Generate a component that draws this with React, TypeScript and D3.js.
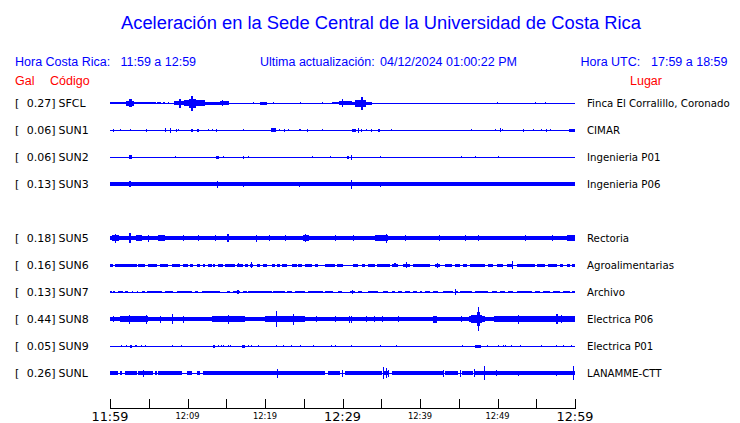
import React from "react";
import * as d3 from "d3";

// ---------- DATA ----------
const titleText = "Aceleración en la Sede Central de la Universidad de Costa Rica";
const localLabel = "Hora Costa Rica:";
const localRange = "11:59 a 12:59";
const updateLabel = "Ultima actualización:";
const updateValue = "04/12/2024 01:00:22 PM";
const utcLabel = "Hora UTC:";
const utcRange = "17:59 a 18:59";

// slots (SUN4 has no data, leaving a gap)
const slotCodes = ["SFCL", "SUN1", "SUN2", "SUN3", "SUN4", "SUN5", "SUN6", "SUN7", "SUN8", "SUN9", "SUNL"];
const stationCodes = ["SFCL", "SUN1", "SUN2", "SUN3", "SUN5", "SUN6", "SUN7", "SUN8", "SUN9", "SUNL"];
const stationGal = [0.27, 0.06, 0.06, 0.13, 0.18, 0.16, 0.13, 0.44, 0.05, 0.26];
const stationPlaces = [
  "Finca El Corralillo, Coronado",
  "CIMAR",
  "Ingenieria P01",
  "Ingenieria P06",
  "Rectoria",
  "Agroalimentarias",
  "Archivo",
  "Electrica P06",
  "Electrica P01",
  "LANAMME-CTT",
];

// time axis (minutes after 11:59)
const tickMinutes = [0, 5, 10, 15, 20, 25, 30, 35, 40, 45, 50, 55, 60];
const majorLabelMinutes = [0, 30, 60];
const minorLabelMinutes = [10, 20, 40, 50];

// envelope segments per trace: [start minute, end minute, half amplitude]
const sfcl = [
  [0, 2.1, 1.3], [2.1, 3.1, 2.5], [2.4, 2.8, 3.8], [3.1, 5.9, 1.2], [6.0, 6.6, 1.2], [6.9, 7.05, 1], [7.5, 7.6, 1],
  [8.2, 9.5, 2.2], [8.9, 9.1, 4.5], [9.5, 10.2, 2.8], [10.2, 11.1, 4.5], [10.5, 10.75, 7.5], [11.1, 12.3, 3],
  [12.3, 14.2, 1.5], [14.2, 15.3, 2.2], [14.4, 14.6, 3.3],
  [18.4, 18.5, 1], [19.4, 20.2, 1.5], [21.0, 21.1, 1], [24.5, 24.6, 0.8], [27.3, 27.4, 1],
  [28.6, 29.5, 1.3], [29.5, 31.2, 2.4], [29.9, 30.1, 4.3], [31.2, 31.6, 1.5], [31.6, 33.0, 3.5], [32.4, 32.7, 6.5],
  [33.0, 33.8, 1.5], [49.9, 50.0, 0.8], [54.8, 54.9, 0.8], [56.1, 56.2, 0.8],
];
const sun1 = [
  [0.4, 0.55, 1.5], [1.25, 1.4, 1.3], [2.55, 2.65, 0.8], [4.6, 4.75, 1.5], [7.05, 7.2, 2], [7.8, 7.9, 2.5],
  [8.55, 8.7, 1.5], [8.8, 8.9, 1.3], [10.45, 10.75, 1.5], [11.18, 11.48, 1.5], [12.65, 12.8, 1.3], [13.1, 13.2, 1.3],
  [13.72, 13.85, 1.5], [17.15, 17.25, 1], [20.73, 21.38, 1.7], [21.8, 21.9, 1.3], [22.4, 22.55, 1.5],
  [22.95, 23.05, 1.3], [24.45, 24.6, 1.2], [25.4, 25.55, 1.5], [27.35, 27.45, 1.3], [31.18, 31.7, 1.5],
  [32.0, 32.1, 2.5], [32.45, 32.55, 1.5], [33.05, 33.15, 1.3], [33.7, 33.8, 1.5], [34.54, 34.88, 1.5],
  [36.2, 36.3, 1.3], [46.55, 46.65, 0.8], [49.7, 49.8, 1], [50.35, 50.45, 2], [50.6, 50.7, 1.3], [53.3, 53.4, 1.5],
  [54.6, 54.7, 1.3], [55.65, 55.75, 1.3], [56.3, 56.4, 1.5], [56.8, 56.9, 1.3], [59.2, 60, 1.5],
];
const sun2 = [
  [2.5, 2.8, 1.7], [8.4, 8.5, 0.8], [13.7, 14.0, 1.5], [14.6, 14.7, 0.8], [17.15, 17.3, 1.5], [17.8, 17.9, 0.8],
  [26.05, 26.15, 1], [28.35, 28.45, 0.6], [30.6, 30.8, 1.5], [31.15, 31.25, 2.5], [34.85, 34.95, 1],
  [45.35, 45.45, 1.2], [47.05, 47.15, 1.2], [50.05, 50.15, 1.2],
];
const sun3 = [
  [0, 60, 2], [2.5, 2.7, 3], [13.8, 13.9, 3.5], [17.15, 17.3, 2.5], [24.45, 24.55, 2.5], [31.1, 31.25, 4.5],
  [34.85, 34.95, 2.5],
];
const sun5 = [
  [0, 60, 2.2], [0.2, 1.1, 3], [0.6, 0.75, 4.5], [2.5, 2.65, 5], [3.4, 4.1, 3], [4.9, 5.0, 3.5], [6.2, 7.1, 3],
  [9.4, 9.5, 3.3], [11.4, 11.5, 3.3], [13.5, 13.6, 3.3], [15.15, 15.3, 4.2], [18.85, 19.0, 3.5], [20.5, 20.7, 2.8],
  [22.6, 22.7, 3.2], [24.9, 25.7, 3], [25.2, 25.35, 4.2], [29.0, 29.1, 3.2], [31.4, 31.5, 3.2], [34.2, 35.9, 3],
  [35.6, 35.8, 4.5], [38.0, 38.1, 3.2], [42.4, 42.5, 3.2], [45.8, 45.9, 3.2], [47.5, 47.6, 3.2], [53.5, 53.6, 3.2],
  [57.0, 57.1, 3.2], [59.0, 60, 3],
];
const sun6 = [
  [0, 0.43, 1.5], [0.65, 3.44, 1.5], [3.66, 4.52, 1.5], [4.95, 6.02, 1.5], [6.45, 7.53, 1.5], [7.96, 9.03, 1.5],
  [9.46, 10.11, 1.5], [10.32, 10.75, 1.5], [11.18, 11.61, 1.5], [12.04, 12.26, 1.5], [12.69, 13.12, 1.5],
  [13.33, 13.55, 1.5], [13.98, 14.62, 1.5], [14.84, 16.13, 1.5], [16.34, 17.2, 1.5], [17.42, 17.85, 1.5],
  [18.06, 18.49, 1.5], [18.92, 19.35, 1.5], [19.78, 20.22, 1.5], [20.86, 21.29, 1.5], [21.51, 21.94, 1.5],
  [22.15, 22.8, 1.5], [23.44, 24.09, 1.5], [24.3, 24.73, 1.5], [25.16, 26.02, 1.5], [26.45, 26.88, 1.5],
  [27.74, 29.03, 1.5], [29.25, 30.11, 1.5], [31.4, 32.04, 1.5], [32.47, 32.9, 1.5], [33.33, 34.19, 1.5],
  [34.41, 36.13, 1.5], [36.34, 37.2, 1.5], [37.85, 38.71, 1.5], [39.14, 41.29, 1.5], [41.94, 42.58, 1.5],
  [43.23, 44.09, 1.5], [44.52, 45.16, 1.5], [45.59, 46.02, 1.5], [46.45, 48.39, 1.5], [48.82, 49.46, 1.5],
  [49.89, 50.75, 1.5], [51.18, 52.04, 1.5], [52.47, 54.84, 1.5], [55.05, 56.13, 1.5], [56.56, 57.63, 1.5],
  [58.06, 58.49, 1.5], [58.92, 59.35, 1.5], [59.57, 60, 1.5],
  [16.5, 16.65, 2.3], [18.15, 18.3, 3.3], [36.7, 36.85, 2.3], [38.2, 38.35, 3], [42.2, 42.3, 2.5], [51.85, 52.0, 4],
];
const sun7 = [
  [0, 0.2, 1.4], [0.43, 0.65, 1.4], [1.08, 1.72, 1.4], [1.94, 2.37, 1.4], [2.8, 3.0, 1.4], [3.44, 3.66, 1.4],
  [4.09, 4.52, 1.4], [4.73, 6.67, 1.4], [7.1, 8.17, 1.4], [8.6, 10.54, 1.4], [10.97, 11.4, 1.4], [11.83, 14.19, 1.4],
  [15.05, 15.48, 1.4], [15.91, 16.77, 1.4], [17.2, 17.63, 1.4], [17.85, 20.86, 1.4], [21.08, 22.58, 1.4],
  [22.8, 23.44, 1.4], [23.87, 25.16, 1.4], [25.59, 27.53, 1.4], [27.74, 28.82, 1.4], [29.46, 29.89, 1.4],
  [30.97, 31.61, 1.4], [32.04, 32.47, 1.4], [33.33, 34.62, 1.4], [35.27, 35.91, 1.4], [36.34, 36.77, 1.4],
  [37.2, 37.63, 1.4], [38.06, 38.71, 1.4], [39.14, 39.57, 1.4], [40.0, 40.22, 1.4], [40.65, 41.29, 1.4],
  [41.72, 42.37, 1.4], [43.01, 44.3, 1.4], [44.52, 44.95, 1.4], [45.16, 46.67, 1.4], [47.1, 48.82, 1.4],
  [49.25, 49.89, 1.4], [50.32, 50.97, 1.4], [51.4, 52.04, 1.4], [52.47, 54.41, 1.4], [54.84, 55.48, 1.4],
  [55.91, 56.77, 1.4], [57.2, 58.06, 1.4], [58.49, 59.35, 1.4], [59.57, 60, 1.4],
  [16.45, 16.6, 2.3], [31.2, 31.35, 2.3], [44.55, 44.7, 3.3],
];
const sun8 = [
  [0, 60, 1.7], [0, 1.3, 2], [0.4, 0.5, 3], [1.3, 4.9, 2.8], [2.5, 2.6, 4.5], [4.6, 4.7, 4.5], [4.9, 6.3, 2],
  [6.4, 6.6, 3.5], [8.0, 8.15, 5], [8.4, 10.3, 2.3], [9.4, 9.5, 3.5], [10.3, 13.1, 2], [13.1, 17.4, 2.6],
  [15.2, 15.3, 4.5], [17.4, 20.0, 2.1], [20.0, 25.2, 2.7], [21.45, 21.6, 8], [22.6, 23.9, 3.4], [23.65, 23.8, 5.5],
  [26.6, 26.7, 3], [29.0, 29.1, 3], [30.8, 30.9, 3.5], [31.1, 31.2, 3.5], [33.05, 33.15, 3], [34.1, 34.2, 3],
  [35.05, 35.15, 3], [37.2, 37.3, 3], [41.7, 42.2, 3.5], [45.3, 45.4, 3], [46.3, 48.4, 2.6], [46.6, 48.0, 4],
  [47.3, 47.7, 7], [47.45, 47.6, 12], [48.4, 49.6, 2], [49.6, 60, 2.6], [52.6, 52.75, 4.5], [57.6, 57.75, 5],
  [58.2, 58.3, 4],
];
const sun9 = [
  [1.45, 1.55, 1], [2.1, 2.2, 1.3], [2.58, 2.8, 1.5], [3.23, 3.44, 1.3], [4.05, 4.15, 1.3], [4.55, 4.65, 1],
  [8.0, 8.1, 1.2], [9.2, 9.3, 0.8], [13.33, 13.55, 1.5], [13.95, 14.05, 1.2], [14.37, 14.47, 1.2], [14.6, 14.7, 1],
  [15.23, 15.33, 1.3], [15.45, 15.55, 1], [16.99, 17.42, 1.5], [17.8, 17.9, 1.2], [18.25, 18.35, 1.3],
  [19.1, 19.2, 1.2], [21.45, 21.55, 1.3], [22.32, 22.42, 1.2], [23.4, 23.5, 1.3], [24.47, 24.57, 1],
  [26.2, 26.3, 1.3], [28.55, 28.65, 1], [29.0, 29.1, 1], [31.13, 31.23, 1.3], [34.8, 34.9, 1.2], [36.95, 37.05, 1.2],
  [45.42, 45.52, 1], [47.1, 47.87, 1.5], [48.65, 48.75, 1], [50.07, 50.17, 1.2], [50.7, 50.8, 1], [50.93, 51.03, 1.2],
  [51.8, 51.9, 1], [52.85, 52.95, 1], [55.65, 55.75, 1], [57.58, 57.68, 1], [58.45, 58.55, 1], [59.52, 59.62, 1],
];
const sunl = [
  [0, 1.08, 1.6], [1.29, 1.5, 1.6], [1.94, 3.44, 1.6], [3.66, 5.59, 1.6], [5.81, 6.02, 1.6], [6.24, 9.25, 1.6],
  [9.89, 10.54, 1.6], [11.18, 11.61, 1.6], [12.04, 20.43, 1.6], [20.43, 21.72, 1.8], [21.72, 27.74, 1.6],
  [28.17, 29.68, 1.6], [30.32, 35.05, 1.6], [35.27, 35.91, 2.2], [36.34, 43.01, 1.6], [43.23, 44.95, 1.6],
  [45.38, 46.88, 1.6], [47.1, 60, 1.7],
  [4.25, 4.4, 3.5], [21.55, 21.7, 4.5], [29.95, 30.1, 3.5], [35.25, 35.4, 6], [35.65, 35.8, 5], [35.9, 36.0, 3.5],
  [43.0, 43.1, 3.5], [45.1, 45.25, 3.5], [47.0, 47.1, 4], [48.25, 48.4, 7], [49.85, 49.95, 3], [52.6, 52.7, 2.5],
  [57.6, 57.7, 2.5], [59.75, 59.9, 7],
];
const traceSegments = [sfcl, sun1, sun2, sun3, sun5, sun6, sun7, sun8, sun9, sunl];

// ---------- CHART ----------
const W = 740;
const H = 423;
const BLUE = "#0000ff";
const RED = "#ff0000";
const SANS = "'Liberation Sans', Arial, sans-serif";
const DEJAVU = "'DejaVu Sans', sans-serif";

const startTime = new Date(2024, 3, 12, 11, 59);
const fmt = d3.timeFormat("%H:%M");
const label = (m: number) => fmt(d3.timeMinute.offset(startTime, m));

export default function App() {
  const x = d3.scaleLinear().domain([0, 60]).range([110, 575]);
  const y = d3.scalePoint<string>().domain(slotCodes).range([103, 373]);
  const amp = d3.scaleLinear().domain([0, 1]).range([0, 1]);
  const axisY = 408.5;

  return (
    <svg
      width={W}
      height={H}
      viewBox={`0 0 ${W} ${H}`}
      style={{ position: "absolute", left: 0, top: 0, background: "#fff" }}
    >
      <rect x={0} y={0} width={W} height={H} fill="#fff" />
      <text x={381} y={28.5} textAnchor="middle" fontSize={18} fontFamily={SANS} fill={BLUE}
        textLength={520} lengthAdjust="spacingAndGlyphs">
        {titleText}
      </text>
      <g fontFamily={SANS} fontSize={12.5} fill={BLUE}>
        <text x={15} y={66}>{localLabel}</text>
        <text x={120.5} y={66}>{localRange}</text>
        <text x={260} y={66}>{updateLabel}</text>
        <text x={380} y={66}>{updateValue}</text>
        <text x={580.5} y={66}>{utcLabel}</text>
        <text x={651} y={66}>{utcRange}</text>
      </g>
      <g fontFamily={SANS} fontSize={12.5} fill={RED}>
        <text x={15} y={85}>Gal</text>
        <text x={50} y={85}>Código</text>
        <text x={630} y={85}>Lugar</text>
      </g>

      {stationCodes.map((code, i) => {
        const cy = y(code) as number;
        return (
          <g key={code}>
            <g fontFamily={DEJAVU} fontSize={11} fill="#000">
              <text x={15} y={cy + 4}>[</text>
              <text x={55.5} y={cy + 4} textAnchor="end">{stationGal[i].toFixed(2) + "]"}</text>
              <text x={58.5} y={cy + 4}>{code}</text>
            </g>
            <text x={587} y={cy + 4} fontFamily={DEJAVU} fontSize={10.2} fill="#000">{stationPlaces[i]}</text>
            <g fill={BLUE} shapeRendering="crispEdges">
              <line x1={x(0)} x2={x(60)} y1={cy} y2={cy} stroke={BLUE} strokeWidth={1} />
              {traceSegments[i].map((s, j) => {
                const x0 = x(s[0]);
                const w = Math.max(1, x(s[1]) - x0);
                const a = amp(s[2]);
                return <rect key={j} x={x0} width={w} y={cy - a} height={2 * a} />;
              })}
            </g>
          </g>
        );
      })}

      <g shapeRendering="crispEdges" stroke="#000">
        <line x1={x(0)} x2={x(60)} y1={axisY} y2={axisY} strokeWidth={1} />
        {tickMinutes.map((m) => (
          <line key={m} x1={Math.round(x(m)) + 0.5} x2={Math.round(x(m)) + 0.5} y1={axisY - 10} y2={axisY} strokeWidth={1} />
        ))}
      </g>
      <g fontFamily={DEJAVU} fill="#000" textAnchor="middle">
        {majorLabelMinutes.map((m) => (
          <text key={m} x={x(m)} y={421} fontSize={13} textLength={37} lengthAdjust="spacingAndGlyphs">
            {label(m)}
          </text>
        ))}
        {minorLabelMinutes.map((m) => (
          <text key={m} x={x(m)} y={418.5} fontSize={8.5} textLength={24} lengthAdjust="spacingAndGlyphs">
            {label(m)}
          </text>
        ))}
      </g>
    </svg>
  );
}
